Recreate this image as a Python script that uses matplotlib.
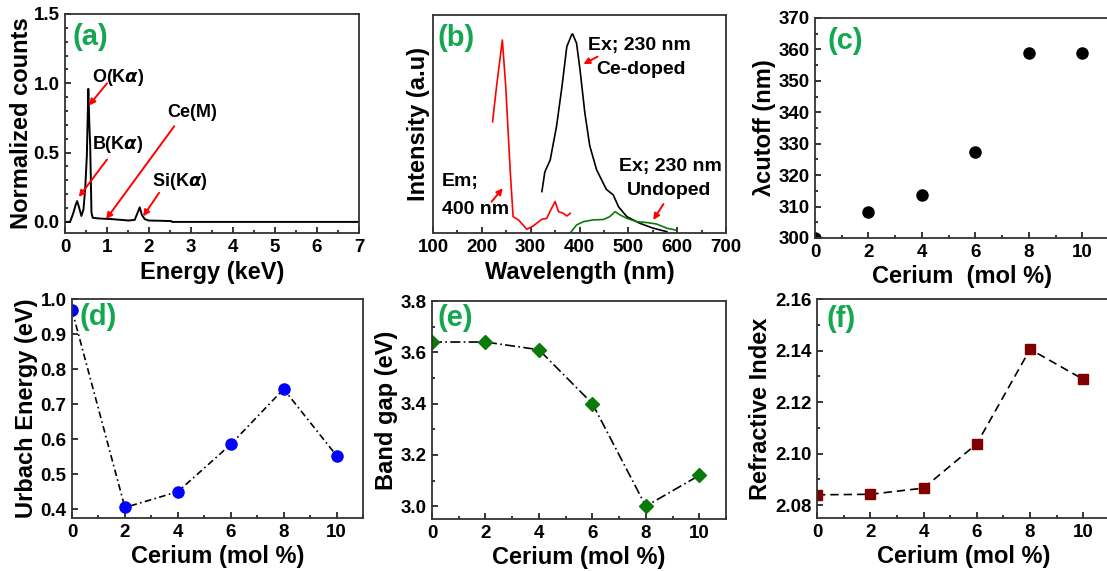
import matplotlib
matplotlib.use('Agg')
import matplotlib.pyplot as plt
from matplotlib.ticker import MultipleLocator, FormatStrFormatter

plt.rcParams['font.family'] = ['Liberation Sans', 'DejaVu Sans']
plt.rcParams['font.weight'] = 'bold'
plt.rcParams['mathtext.default'] = 'it'

# --- (a) EDS spectrum ---
eds_kev = [0.0, 0.12, 0.17, 0.20, 0.25, 0.29, 0.33, 0.39, 0.44, 0.48, 0.52, 0.555,
           0.58, 0.60, 0.63, 0.66, 0.80, 1.12, 1.52, 1.66, 1.72, 1.78, 1.83, 1.90,
           1.99, 2.30, 2.53, 2.55, 7.0]
eds_counts = [0.0, 0.0, 0.04, 0.066, 0.12, 0.15, 0.11, 0.043, 0.09, 0.235, 0.475, 0.96,
              0.70, 0.55, 0.068, 0.03, 0.025, 0.02, 0.01, 0.015, 0.06, 0.105, 0.05, 0.02,
              0.01, 0.008, 0.006, 0.0, 0.0]

# --- (b) photoluminescence ---
em_nm = [222, 230, 242, 249, 258, 264, 275, 292, 305, 323, 333, 341, 350, 357, 367, 374, 381]
em_int = [0.51, 0.67, 0.885, 0.67, 0.29, 0.075, 0.06, 0.017, 0.032, 0.063, 0.067, 0.105,
          0.144, 0.098, 0.09, 0.078, 0.09]
ce_nm = [323, 329, 340, 353, 364, 374, 384, 386, 394, 401, 411, 421, 435, 455, 469, 480,
         497, 524, 551, 579]
ce_int = [0.19, 0.28, 0.335, 0.49, 0.67, 0.855, 0.91, 0.913, 0.87, 0.75, 0.55, 0.40, 0.29,
          0.20, 0.175, 0.12, 0.075, 0.044, 0.022, 0.006]
un_nm = [381, 394, 408, 428, 449, 462, 473, 483, 497, 517, 538, 558, 579, 596]
un_int = [0.0, 0.037, 0.052, 0.06, 0.062, 0.075, 0.098, 0.083, 0.067, 0.052, 0.048, 0.041,
          0.022, 0.014]

# --- (c)-(f) vs cerium content ---
cerium = [0, 2, 4, 6, 8, 10]
cutoff = [300, 308.2, 313.6, 327.4, 359, 359]
urbach = [0.968, 0.405, 0.45, 0.585, 0.743, 0.553]
band_gap = [3.64, 3.64, 3.61, 3.40, 3.00, 3.12]
ref_index = [2.084, 2.0842, 2.0866, 2.1038, 2.1405, 2.1288]

W, H = 1107, 571
fig = plt.figure(figsize=(W / 100, H / 100), dpi=100)


def make_ax(left, right, top, bottom):
    return fig.add_axes([left / W, 1 - bottom / H, (right - left) / W, (bottom - top) / H])


def style(ax, xmaj, xmin, ymaj=None, ymin=None):
    for s in ax.spines.values():
        s.set_linewidth(1.3)
        s.set_color('#333333')
    ax.xaxis.set_major_locator(MultipleLocator(xmaj))
    ax.xaxis.set_minor_locator(MultipleLocator(xmin))
    if ymaj is not None:
        ax.yaxis.set_major_locator(MultipleLocator(ymaj))
    if ymin is not None:
        ax.yaxis.set_minor_locator(MultipleLocator(ymin))
    ax.tick_params(which='both', direction='in', labelsize=13.5, width=1.1, pad=4)
    ax.tick_params(which='major', length=4)
    ax.tick_params(which='minor', length=2.5)
    for lab in ax.get_xticklabels() + ax.get_yticklabels():
        lab.set_fontweight('bold')


def tag(ax, s, x, y):
    ax.text(x, y, s, transform=ax.transAxes, fontsize=21, fontweight='bold',
            color='#13a84f', ha='left', va='center')


red_arrow = dict(arrowstyle='-|>', color='red', lw=1.4, mutation_scale=9,
                 shrinkA=0, shrinkB=0)
lab_kw = dict(fontsize=17, fontweight='bold')

# (a)
ax = make_ax(65, 359, 14, 233)
ax.plot(eds_kev, eds_counts, color='black', lw=1.4)
ax.set_xlim(0, 7)
ax.set_ylim(-0.08, 1.5)
style(ax, 1, 0.5, 0.5, 0.1)
ax.yaxis.set_major_formatter(FormatStrFormatter('%.1f'))
ax.set_xlabel('Energy (keV)', labelpad=4, **lab_kw)
ax.set_ylabel('Normalized counts', labelpad=0, **lab_kw)
tag(ax, '(a)', 0.027, 0.895)
tkw = dict(fontsize=13, fontweight='bold', ha='left', va='center')
ax.text(0.64, 1.04, r'O(K$\alpha$)', **tkw)
ax.text(0.64, 0.56, r'B(K$\alpha$)', **tkw)
ax.text(2.43, 0.79, 'Ce(M)', **tkw)
ax.text(2.07, 0.29, r'Si(K$\alpha$)', **tkw)
ax.annotate('', xy=(0.57, 0.84), xytext=(1.0, 1.0), arrowprops=red_arrow)
ax.annotate('', xy=(0.33, 0.18), xytext=(1.0, 0.45), arrowprops=red_arrow)
ax.annotate('', xy=(0.98, 0.02), xytext=(2.6, 0.69), arrowprops=red_arrow)
ax.annotate('', xy=(1.86, 0.04), xytext=(2.24, 0.21), arrowprops=red_arrow)

# (b)
ax = make_ax(433, 726, 15, 233)
ax.plot(em_nm, em_int, color='red', lw=1.2)
ax.plot(ce_nm, ce_int, color='black', lw=1.2)
ax.plot(un_nm, un_int, color='#0a7a0a', lw=1.2)
ax.set_xlim(100, 700)
ax.set_ylim(0, 1)
style(ax, 100, 50)
ax.set_yticks([])
ax.set_xlabel('Wavelength (nm)', labelpad=4, **lab_kw)
ax.set_ylabel('Intensity (a.u)', labelpad=2, **lab_kw)
tag(ax, '(b)', 0.014, 0.894)
bkw = dict(tkw, fontsize=14)
ax.text(417, 0.862, 'Ex; 230 nm', **bkw)
ax.text(434, 0.752, 'Ce-doped', **bkw)
ax.annotate('', xy=(408, 0.775), xytext=(437, 0.809), arrowprops=red_arrow)
ax.text(118, 0.235, 'Em;', **bkw)
ax.text(118, 0.109, '400 nm', **bkw)
ax.annotate('', xy=(243, 0.205), xytext=(220, 0.144), arrowprops=red_arrow)
ax.text(481, 0.307, 'Ex; 230 nm', **bkw)
ax.text(497, 0.197, 'Undoped', **bkw)
ax.annotate('', xy=(551, 0.06), xytext=(572, 0.133), arrowprops=red_arrow)

# (c)
ax = make_ax(815, 1109, 18, 238)
ax.plot(cerium, cutoff, 'o', color='black', ms=8)
ax.set_xlim(0, 11)
ax.set_ylim(300, 370)
style(ax, 2, 1, 10, 5)
ax.set_xlabel('Cerium  (mol %)', labelpad=3, **lab_kw)
ax.set_ylabel('λcutoff (nm)', labelpad=2, **lab_kw)
tag(ax, '(c)', 0.041, 0.895)

# (d)
ax = make_ax(72, 363, 299, 518)
ax.plot(cerium, urbach, color='black', lw=1.2, dashes=(4, 2, 1, 2))
ax.plot(cerium, urbach, 'o', color='#0000ff', ms=8)
ax.set_xlim(0, 11)
ax.set_ylim(0.375, 1.0)
style(ax, 2, 1, 0.1)
ax.yaxis.set_major_formatter(FormatStrFormatter('%.1f'))
ax.set_xlabel('Cerium (mol %)', labelpad=3, **lab_kw)
ax.set_ylabel('Urbach Energy (eV)', labelpad=2, **lab_kw)
tag(ax, '(d)', 0.027, 0.918)

# (e)
ax = make_ax(432, 726, 301, 519)
ax.plot(cerium, band_gap, color='black', lw=1.2, dashes=(6, 2, 1, 2))
ax.plot(cerium, band_gap, 'D', color='#0a7a0a', ms=7.5)
ax.set_xlim(0, 11)
ax.set_ylim(2.95, 3.8)
style(ax, 2, 1, 0.2, 0.1)
ax.yaxis.set_major_formatter(FormatStrFormatter('%.1f'))
ax.set_xlabel('Cerium (mol %)', labelpad=3, **lab_kw)
ax.set_ylabel('Band gap (eV)', labelpad=2, **lab_kw)
tag(ax, '(e)', 0.02, 0.92)

# (f)
ax = make_ax(817, 1110, 299, 518)
ax.plot(cerium, ref_index, color='black', lw=1.2, dashes=(5, 3))
ax.plot(cerium, ref_index, 's', color='#800000', ms=7.5)
ax.set_xlim(0, 11)
ax.set_ylim(2.075, 2.16)
style(ax, 2, 1, 0.02, 0.01)
ax.yaxis.set_major_formatter(FormatStrFormatter('%.2f'))
ax.set_xlabel('Cerium (mol %)', labelpad=3, **lab_kw)
ax.set_ylabel('Refractive Index', labelpad=2, **lab_kw)
tag(ax, '(f)', 0.034, 0.909)

fig.savefig('out.png', dpi=100, facecolor='white')
